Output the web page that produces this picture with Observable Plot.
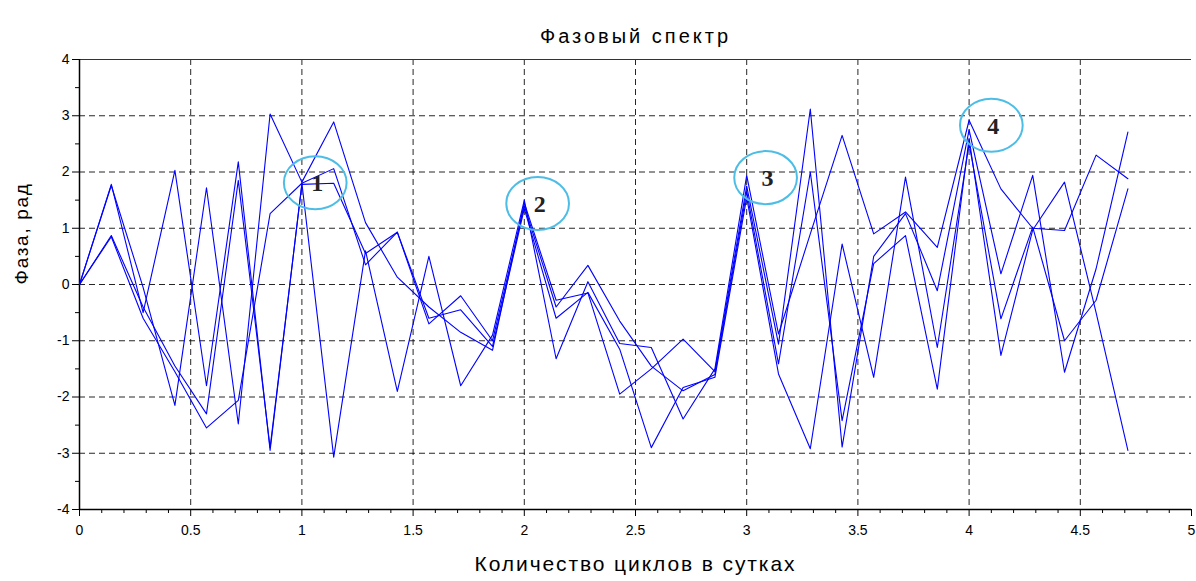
<!DOCTYPE html>
<html>
<head>
<meta charset="utf-8">
<script src="https://cdn.jsdelivr.net/npm/d3@7"></script>
<script src="https://cdn.jsdelivr.net/npm/@observablehq/plot@0.6"></script>
<style>
  html, body { margin: 0; padding: 0; background: #fff; }
  #chart { width: 1196px; height: 581px; overflow: hidden; }
</style>
</head>
<body>
<div id="chart"></div>
<script>
// Frequency, cycles per day (step of 1/7)
const freq = [0, 0.143, 0.286, 0.429, 0.571, 0.714, 0.857, 1, 1.143, 1.286, 1.429, 1.571,
  1.714, 1.857, 2, 2.143, 2.286, 2.429, 2.571, 2.714, 2.857, 3, 3.143, 3.286, 3.429,
  3.571, 3.714, 3.857, 4, 4.143, 4.286, 4.429, 4.571, 4.714];

// Phase, rad — four spectra
const phaseA = [0, 1.78, -0.5, 2.03, -1.8, 2.18, -2.95, 1.8, -3.07, 0.6, -1.9, 0.5,
  -1.8, -0.9, 1.5, -1.32, 0.05, -1.05, -1.12, -2.39, -1.5, 1.94, -0.88, 0.9, 2.65,
  0.9, 1.29, 0.66, 2.92, 1.7, 1.0, 0.96, 2.3, 1.88];
const phaseB = [0, 1.76, -0.05, -2.15, 1.72, -2.48, 3.03, 1.82, 2.89, 1.1, 0.13, -0.4,
  -0.85, -1.17, 1.45, -0.28, -0.15, -1.95, -1.5, -0.97, -1.55, 1.75, -1.06, 3.12, -2.89,
  0.5, 1.26, -0.11, 2.75, 0.19, 1.94, -1.56, 0.28, 2.71];
const phaseC = [0, 0.87, -0.4, -1.45, -2.3, 1.85, -2.9, 1.78, 1.8, 0.55, 0.93, -0.7,
  -0.2, -1.0, 1.4, -0.4, 0.34, -0.65, -1.45, -1.89, -1.6, 1.65, -1.41, 2.0, -2.42,
  0.37, 0.87, -1.86, 2.6, -1.26, 0.97, 1.82, -0.5, -2.95];
const phaseD = [0, 0.85, -0.6, -1.55, -2.55, -2.06, 1.26, 1.8, 2.06, 0.35, 0.93, -0.6,
  -0.45, -1.1, 1.35, -0.6, -0.14, -1.15, -2.9, -1.83, -1.65, 1.55, -1.59, -2.92, 0.72,
  -1.65, 1.91, -1.12, 2.5, -0.61, 1.02, -1.0, -0.28, 1.7];

// Axis ticks
const xMajor = [0, 0.5, 1, 1.5, 2, 2.5, 3, 3.5, 4, 4.5, 5];
const xMinor = [0.1, 0.2, 0.3, 0.4, 0.6, 0.7, 0.8, 0.9, 1.1, 1.2, 1.3, 1.4, 1.6, 1.7, 1.8, 1.9,
  2.1, 2.2, 2.3, 2.4, 2.6, 2.7, 2.8, 2.9, 3.1, 3.2, 3.3, 3.4, 3.6, 3.7, 3.8, 3.9,
  4.1, 4.2, 4.3, 4.4, 4.6, 4.7, 4.8, 4.9];
const yMajor = [-4, -3, -2, -1, 0, 1, 2, 3, 4];
const yMinor = [-3.5, -2.5, -1.5, -0.5, 0.5, 1.5, 2.5, 3.5];
const xGrid = [0.5, 1, 1.5, 2, 2.5, 3, 3.5, 4, 4.5];
const yGrid = [-3, -2, -1, 0, 1, 2, 3];

// Marked peaks
const peakX = [1.06, 2.06, 3.085, 4.1];
const peakY = [1.81, 1.44, 1.9, 2.83];
const peakLabel = ["1", "2", "3", "4"];

// Titles
const titleText = "Фазовый спектр";
const xLabelText = "Количество циклов в сутках";
const yLabelText = "Фаза, рад";

const seriesList = [phaseA, phaseB, phaseC, phaseD];
const rows = seriesList.flatMap((s, i) => s.map((v, k) => ({x: freq[k], y: v, s: i})));
const peaks = peakX.map((x, i) => ({x, y: peakY[i], label: peakLabel[i]}));

// Ellipse outline used for the peak markers
const ellipse = {
  draw(ctx, size) {
    const r = Math.sqrt(size / Math.PI);
    const rx = r * 1.1, ry = r * 0.93, k = 0.5523;
    ctx.moveTo(rx, 0);
    ctx.bezierCurveTo(rx, ry * k, rx * k, ry, 0, ry);
    ctx.bezierCurveTo(-rx * k, ry, -rx, ry * k, -rx, 0);
    ctx.bezierCurveTo(-rx, -ry * k, -rx * k, -ry, 0, -ry);
    ctx.bezierCurveTo(rx * k, -ry, rx, -ry * k, rx, 0);
    ctx.closePath();
  }
};

const font = "'Liberation Sans', Arial, sans-serif";

const chart = Plot.plot({
  width: 1196,
  height: 581,
  marginLeft: 79,
  marginRight: 5,
  marginTop: 59,
  marginBottom: 72,
  style: {fontFamily: font, fontSize: "14px", background: "#fff", color: "#000"},
  x: {domain: [0, 5]},
  y: {domain: [-4, 4]},
  marks: [
    Plot.gridX({ticks: xGrid, stroke: "#000", strokeOpacity: 0.85, strokeDasharray: "6,4"}),
    Plot.gridY({ticks: yGrid, stroke: "#000", strokeOpacity: 0.85, strokeDasharray: "6,4"}),
    Plot.ruleY([4], {stroke: "#333", strokeWidth: 1}),
    Plot.ruleY([-4], {stroke: "#000", strokeWidth: 1.5}),
    Plot.ruleX([0], {stroke: "#000", strokeWidth: 1.5}),
    Plot.axisX({ticks: xMajor, tickSize: 7, tickPadding: 9, tickFormat: d => String(d), label: null}),
    Plot.axisX({ticks: xMinor, tickSize: 4, tickFormat: () => "", label: null}),
    Plot.axisY({ticks: yMajor, tickSize: 7, tickPadding: 3, tickFormat: d => String(d), label: null}),
    Plot.axisY({ticks: yMinor, tickSize: 4, tickFormat: () => "", label: null}),
    Plot.line(rows, {x: "x", y: "y", z: "s", stroke: "#0000ff", strokeWidth: 1.1}),
    Plot.dot(peaks, {x: "x", y: "y", r: 28.5, symbol: ellipse, stroke: "#4dbde6", strokeWidth: 2, fill: "none"}),
    Plot.text(peaks, {x: "x", y: "y", text: "label", dx: 2, dy: 1, fontFamily: "'Liberation Serif', serif", fontWeight: "bold", fontSize: 24, fill: "#222"}),
    Plot.text([titleText], {text: d => d, frameAnchor: "top", dy: -31, fontSize: 20}),
    Plot.text([xLabelText], {text: d => d, frameAnchor: "bottom", dy: 61, fontSize: 21}),
    Plot.text([yLabelText], {text: d => d, frameAnchor: "left", dx: -58, rotate: -90, fontSize: 19})
  ]
});

// Wider letter spacing for the title and axis titles
const spacing = new Map([[titleText, 3], [xLabelText, 1.9], [yLabelText, 1.7]]);
d3.select(chart).selectAll("text").each(function() {
  const s = spacing.get(this.textContent);
  if (s != null) this.setAttribute("letter-spacing", s);
});

document.getElementById("chart").appendChild(chart);
</script>
</body>
</html>
